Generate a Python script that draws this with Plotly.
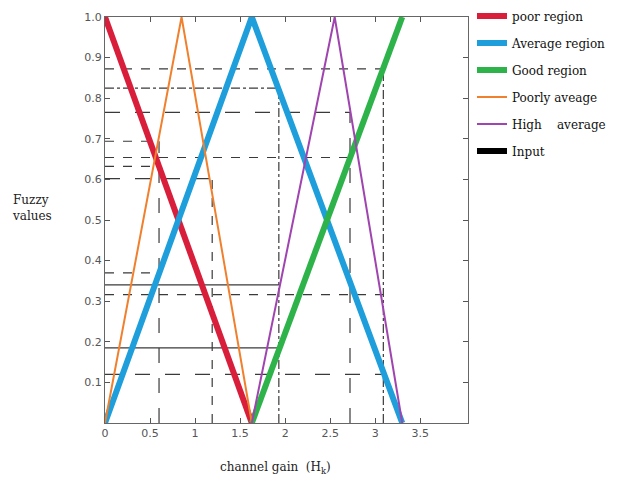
import plotly.graph_objects as go

# ---- data ----
X_POOR = [0, 1.63]
Y_POOR = [1, 0]
X_AVG = [0, 1.63, 3.3]
Y_AVG = [0, 1, 0]
X_GOOD = [1.63, 3.3]
Y_GOOD = [0, 1]
X_PAVG = [0, 0.85, 1.63]
Y_PAVG = [0, 1, 0]
X_HAVG = [1.63, 2.55, 3.3]
Y_HAVG = [0, 1, 0]

# input projections: horizontal lines (fuzzy level, x where it ends)
H_LEVELS = [0.872, 0.825, 0.765, 0.694, 0.654, 0.632, 0.602, 0.37, 0.34, 0.316, 0.185, 0.12]
H_ENDS = [3.09, 1.93, 2.72, 0.6, 2.72, 0.6, 1.19, 0.6, 1.93, 3.09, 1.93, 3.09]
# vertical lines (input gain, top fuzzy level)
V_INPUTS = [0.6, 1.19, 1.93, 2.72, 3.09]
V_TOPS = [0.694, 0.602, 0.825, 0.765, 0.872]

X_TICKS = [0, 0.5, 1, 1.5, 2, 2.5, 3, 3.5]
X_TICKTEXT = ["0", "0.5", "1", "1.5", "2", "2.5", "3", "3.5"]
Y_TICKS = [0.1, 0.2, 0.3, 0.4, 0.5, 0.6, 0.7, 0.8, 0.9, 1.0]
Y_TICKTEXT = ["0.1", "0.2", "0.3", "0.4", "0.5", "0.6", "0.7", "0.8", "0.9", "1.0"]

# ---- styles ----
H_DASH = ["dash", "dashdot", "longdash", "dash", "dash", "dash", "longdash",
          "dash", "solid", "dash", "solid", "longdash"]
V_DASH = ["longdash", "dash", "dashdot", "longdash", "dashdot"]
INPUT_COLOR = "#3a3a3a"
SERIF = "DejaVu Serif"

fig = go.Figure()

for lvl, xe, d in zip(H_LEVELS, H_ENDS, H_DASH):
    fig.add_trace(go.Scatter(x=[0, xe], y=[lvl, lvl], mode="lines",
                             line=dict(color=INPUT_COLOR, width=1.2, dash=d),
                             showlegend=False, hoverinfo="skip"))
for xv, yt, d in zip(V_INPUTS, V_TOPS, V_DASH):
    fig.add_trace(go.Scatter(x=[xv, xv], y=[0, yt], mode="lines",
                             line=dict(color=INPUT_COLOR, width=1.2, dash=d),
                             showlegend=False, hoverinfo="skip"))

series = [
    ("poor region", X_POOR, Y_POOR, "#d81e3a", 6),
    ("Average region", X_AVG, Y_AVG, "#1e9fdc", 6),
    ("Good region", X_GOOD, Y_GOOD, "#2db34a", 6),
    ("Poorly aveage", X_PAVG, Y_PAVG, "#f0802e", 2),
    ("High&nbsp;&nbsp;&nbsp;&nbsp;average", X_HAVG, Y_HAVG, "#a044b0", 2),
]
for i, (name, xs, ys, col, w) in enumerate(series):
    fig.add_trace(go.Scatter(x=xs, y=ys, mode="lines", name=name,
                             line=dict(color=col, width=w),
                             legendgroup=f"g{i}"))

fig.add_trace(go.Scatter(x=[None], y=[None], mode="lines", name="Input",
                         line=dict(color="black", width=6), legendgroup="g9"))

axis_common = dict(showline=True, linecolor="#666", linewidth=1, mirror="ticks",
                   ticks="inside", ticklen=5, tickcolor="#555", showgrid=False,
                   zeroline=False, tickfont=dict(family="DejaVu Sans", size=11, color="#555"))

fig.update_xaxes(range=[0, 4.03], tickvals=X_TICKS, ticktext=X_TICKTEXT, **axis_common)
fig.update_yaxes(range=[0, 1.0], tickvals=Y_TICKS, ticktext=Y_TICKTEXT, **axis_common)

fig.add_annotation(text="Fuzzy<br>values", xref="paper", yref="paper", x=-0.2, y=0.53,
                   showarrow=False, xanchor="center", yanchor="middle", align="left",
                   font=dict(family=SERIF, size=12, color="#222"))
fig.add_annotation(text="channel gain &nbsp;(H<sub>k</sub>)", xref="paper", yref="paper",
                   x=0.47, y=-0.112, showarrow=False, xanchor="center", yanchor="middle",
                   font=dict(family=SERIF, size=12, color="#222"))

fig.update_layout(
    width=622, height=484,
    margin=dict(l=105, r=154, t=17, b=61, autoexpand=False),
    paper_bgcolor="white", plot_bgcolor="white",
    legend=dict(x=1.011, y=1.038, xanchor="left", yanchor="top",
                traceorder="grouped", tracegroupgap=8,
                font=dict(family=SERIF, size=12, color="#111"),
                bgcolor="rgba(0,0,0,0)"),
)

fig.write_html("out.html")
